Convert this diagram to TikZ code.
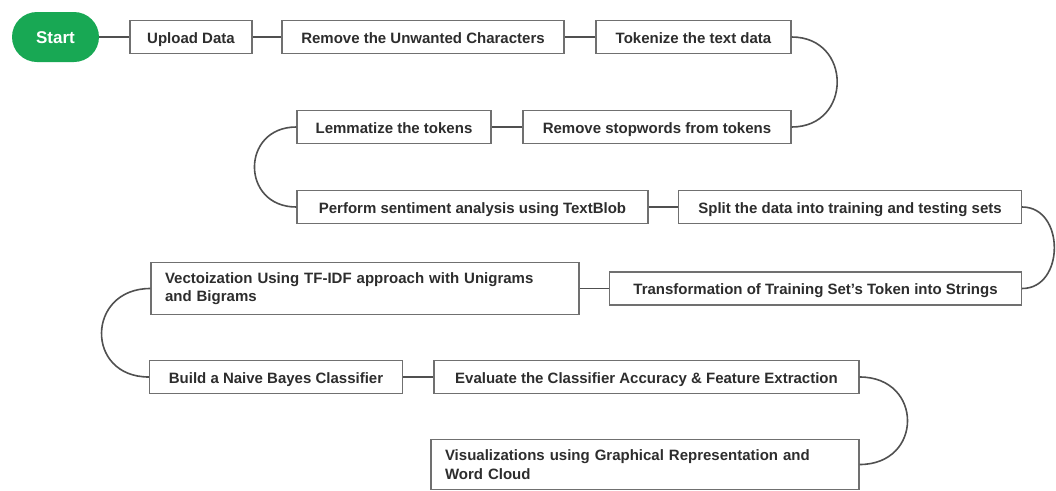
\documentclass[tikz,border=0pt]{standalone}
\usepackage{fontspec}
\setmainfont{Liberation Sans}
\definecolor{startgreen}{RGB}{24,168,84}
\definecolor{boxgray}{RGB}{112,112,112}
\definecolor{linegray}{RGB}{80,80,80}
\definecolor{textgray}{RGB}{45,45,45}

\begin{document}
\begin{tikzpicture}[x=1pt, y=-1pt]
    % Setup the style for the steps
        \tikzset{stage box/.style={draw=boxgray,
                                   line width=1.3pt,
                                   fill=white,
                                   text=textgray,
                                   font=\fontsize{15}{18.5}\selectfont\bfseries,
                                   minimum height=33pt,
                                   inner xsep=14pt},
                 one line/.style={stage box,
                                  text height=12pt,
                                  text depth=0pt},
                 start node/.style={fill=startgreen,
                                    rounded corners=25pt,
                                    minimum width=87pt,
                                    minimum height=50pt,
                                    text=white,
                                    text height=12.5pt,
                                    text depth=0pt,
                                    font=\fontsize{17}{20}\selectfont\bfseries}}
        \useasboundingbox (0, 0) rectangle (1056, 490);
        % Draw the steps
        \node[start node] at (55.5, 37) (start) {Start};
        \node[one line, minimum width=122pt] at (191, 37) (upload) {Upload Data};
        \node[one line, minimum width=282pt] at (423, 37) (remove) {Remove the Unwanted Characters};
        \node[one line, minimum width=195pt] at (693.5, 37) (tokenize) {Tokenize the text data};
        \node[one line, minimum width=268pt] at (657, 127) (stopwords) {Remove stopwords from tokens};
        \node[one line, minimum width=194pt] at (394, 127) (lemmatize) {Lemmatize the tokens};
        \node[one line, minimum width=351pt] at (472.5, 207) (sentiment) {Perform sentiment analysis using TextBlob};
        \node[one line, minimum width=343pt] at (850, 207) (split) {Split the data into training and testing sets};
        \node[one line, minimum width=412pt] at (815.5, 288.5) (strings) {Transformation of Training Set's Token into Strings};
        \node[stage box, text width=400pt, align=left, minimum height=52pt] at (365, 288.5) (tfidf) {Vectoization Using TF-IDF approach with Unigrams\\and Bigrams};
        \node[one line, minimum width=253pt] at (276, 377) (bayes) {Build a Naive Bayes Classifier};
        \node[one line, minimum width=425pt] at (646.5, 377) (evaluate) {Evaluate the Classifier Accuracy \& Feature Extraction};
        \node[stage box, text width=400pt, align=left, minimum height=50pt] at (645, 464.5) (visual) {Visualizations using Graphical Representation and\\Word Cloud};
        % Connect the steps
        \draw[line width=1.6pt,
              draw=linegray]
            (start)           edge                                   (upload)
            (upload)          edge                                   (remove)
            (remove)          edge                                   (tokenize)
            (tokenize.east)   edge[out=0, in=0, looseness=1.73]      (stopwords.east)
            (stopwords)       edge                                   (lemmatize)
            (lemmatize.west)  edge[out=180, in=180, looseness=1.79]  (sentiment.west)
            (sentiment)       edge                                   (split)
            (split.east)      edge[out=0, in=0, looseness=1.35]      (strings.east)
            (strings)         edge                                   (tfidf)
            (tfidf.west)      edge[out=180, in=180, looseness=1.85]  (bayes.west)
            (bayes)           edge                                   (evaluate)
            (evaluate.east)   edge[out=0, in=0, looseness=1.87]      (visual.east);
\end{tikzpicture}
\end{document}
